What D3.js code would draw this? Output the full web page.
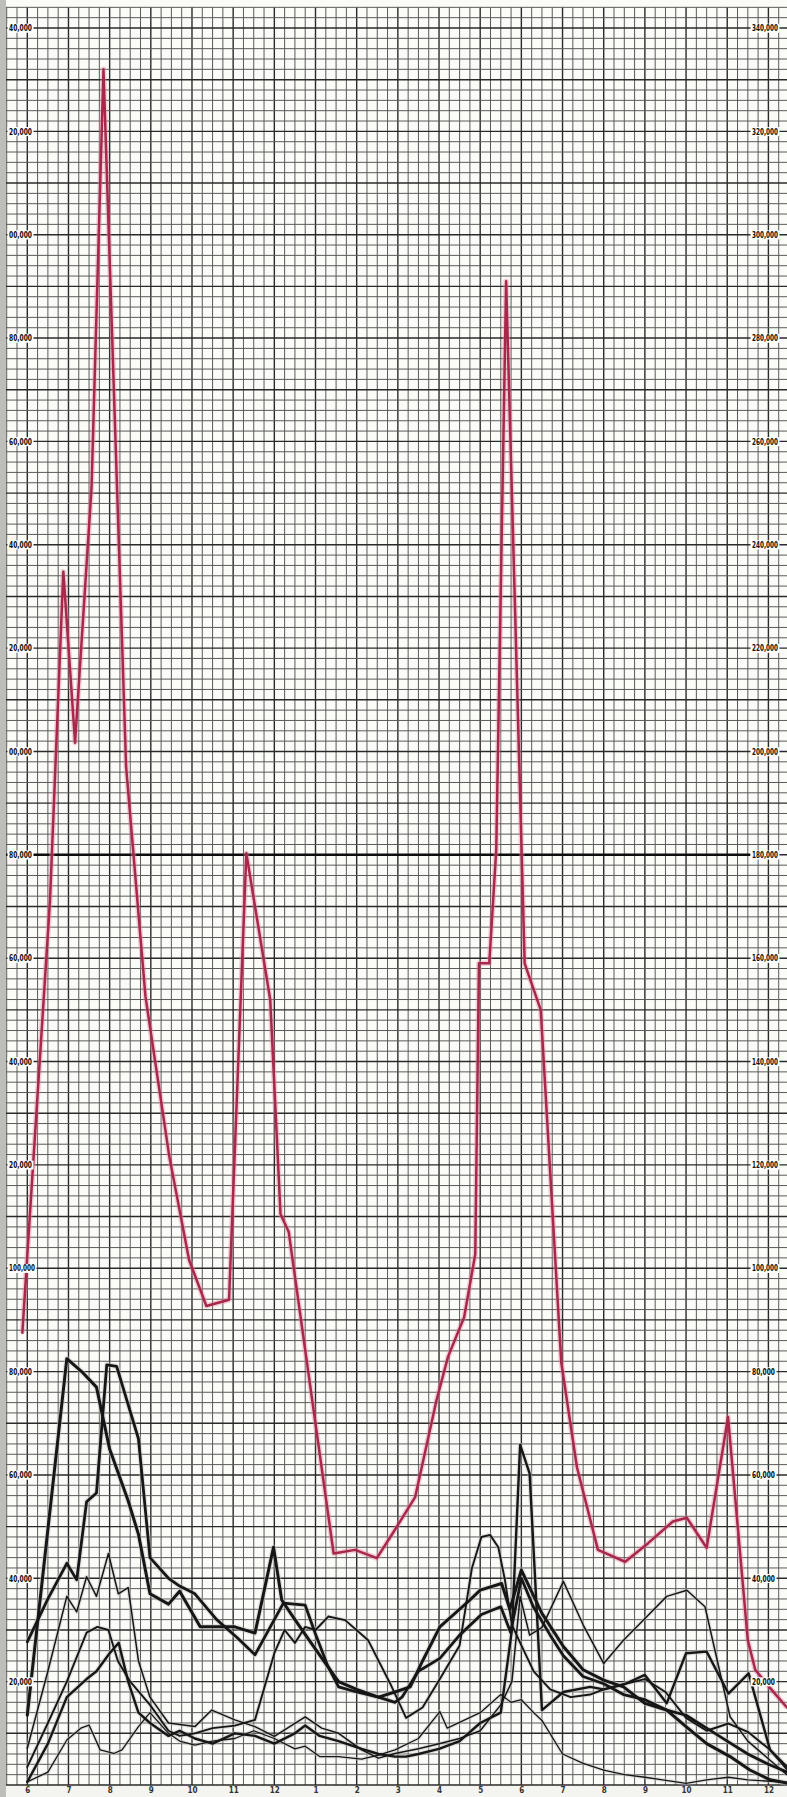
<!DOCTYPE html>
<html><head><meta charset="utf-8">
<script src="https://cdn.jsdelivr.net/npm/d3@7"></script>
<style>html,body{margin:0;padding:0;background:#fff;} svg{display:block;}</style>
</head><body>
<svg id="c" width="787" height="1797"></svg>
<script>
// ---------- data (time in months from first "6"; values in thousands) ----------
const monthLabels = ["6","7","8","9","10","11","12","1","2","3","4","5","6","7","8","9","10","11","12"];
const tickValues = [20,40,60,80,100,120,140,160,180,200,220,240,260,280,300,320,340];
const leftTickLabels = ["20,000","40,000","60,000","80,000","100,000","20,000","40,000","60,000","80,000","00,000","20,000","40,000","60,000","80,000","00,000","20,000","40,000"];
const rightTickLabels = ["20,000","40,000","60,000","80,000","100,000","120,000","140,000","160,000","180,000","200,000","220,000","240,000","260,000","280,000","300,000","320,000","340,000"];
const referenceLine = 180;

const redSeries = [[-0.12,87.5],[0.55,171],[0.875,234.8],[1.16,201.7],[1.56,251],[1.85,332],[2.4,197],[2.87,152.6],[3.45,121.6],[3.93,101.6],[4.35,92.7],[4.9,93.9],[5.32,180.3],[5.9,152],[6.15,110.5],[6.35,107],[7.44,44.8],[7.96,45.5],[8.49,43.9],[8.93,49.4],[9.42,55.7],[9.94,74.5],[10.22,82.9],[10.61,90.5],[10.88,102.7],[10.97,159],[11.22,159],[11.39,181],[11.63,291],[12.08,159],[12.47,150],[12.97,81.7],[13.35,61.5],[13.86,45.5],[14.52,43.2],[15.08,46.8],[15.68,51],[16.02,51.7],[16.5,45.9],[17.02,71.2],[17.5,28],[17.68,22.3],[18.08,18.4],[18.45,15]];

const blackA = [[0,13.5],[0.96,82.5],[1.32,80],[1.68,77],[2.0,65],[2.45,55],[2.7,48.5],[2.98,37],[3.43,35],[3.7,37.5],[4.2,30.6],[5.04,30.6],[5.53,29.4],[5.98,46],[6.18,35.8],[6.5,32],[6.85,28],[7.2,24],[7.56,20],[8.0,18.5],[8.53,17],[8.93,18],[9.3,19],[9.6,24],[10.02,30.6],[10.75,35.8],[11.0,37.7],[11.52,39],[11.72,34],[12.0,41.6],[12.5,33.2],[13.02,26.8],[13.5,22.3],[14.0,20.3],[14.48,19],[15.0,15.8],[15.53,14.5],[16.0,11.3],[16.5,8],[17.07,5.5],[17.55,2.9],[18.04,1],[18.45,0.4]];
const blackB = [[0,27.7],[0.5,36],[0.96,42.9],[1.2,39.7],[1.44,54.8],[1.68,56.5],[1.93,81.3],[2.17,81],[2.7,67],[2.98,44],[3.43,40],[3.7,38.5],[4.07,37],[4.6,32],[5.1,28.5],[5.53,25.2],[6.22,35.2],[6.75,34.8],[6.99,29.4],[7.3,23],[7.56,19],[8.0,18],[8.53,17],[8.93,16],[9.1,17],[9.5,22],[10.02,24.5],[10.5,29],[11.03,33],[11.5,34.5],[11.74,29.5],[12.0,40],[12.29,34.5],[12.7,29],[13.02,25],[13.5,21],[14.0,19.6],[14.48,17.5],[15.0,16.5],[15.53,14.5],[16.0,13.5],[16.5,11],[17.0,8.5],[17.5,6],[18.0,4],[18.45,2.5]];
const blackC = [[0,7.1],[0.5,22],[0.96,36.5],[1.2,33.5],[1.44,40.3],[1.68,36.5],[1.97,44.8],[2.21,37],[2.45,38.2],[2.7,24],[2.98,17],[3.43,12],[4.07,11.3],[4.48,14.5],[5.04,12.6],[5.53,11.3],[6.0,9.4],[6.75,13.2],[7.15,11],[7.56,10],[8.12,6.8],[8.53,5.2],[8.93,6.1],[9.5,7],[10.0,8],[10.5,9],[11.0,10.5],[11.5,15.5],[11.77,20],[11.97,36.5],[12.2,29],[12.5,30.5],[13.02,39.4],[13.5,31],[14.0,23.5],[14.48,28],[14.96,31.9],[15.53,36.5],[16.02,37.7],[16.46,34.5],[17.07,13.2],[17.5,8.5],[18.04,4.8],[18.45,2]];
const blackD = [[0,3.5],[0.5,12],[0.96,20],[1.44,29.5],[1.7,30.6],[1.97,30],[2.2,24],[2.5,20],[2.98,15.5],[3.43,10.5],[3.7,9.5],[4.07,10],[4.5,11],[5.04,11.5],[5.53,12.6],[6.0,25.5],[6.25,30],[6.5,27.5],[6.75,30.6],[7.0,30],[7.31,32.6],[7.72,31.9],[8.28,28],[8.81,19.7],[9.2,13],[9.6,15],[10.02,20.5],[10.5,27],[10.8,42],[11.03,48],[11.24,48.4],[11.44,46],[11.6,39.7],[11.77,31],[12.0,27],[12.3,22],[12.7,18.5],[13.2,17],[13.67,17.5],[14.0,18.5],[14.48,19.5],[15.0,20.5],[15.5,18],[16.0,13],[16.5,10.5],[17.03,11.9],[17.5,10.3],[18.04,6.8],[18.45,3]];
const blackE = [[0,0.6],[0.5,8],[0.96,17],[1.44,20.5],[1.68,22],[2.0,25.5],[2.22,27.5],[2.45,20],[2.7,14],[2.98,12],[3.43,9.5],[3.7,10.5],[4.07,9],[4.5,8],[5.04,10],[5.53,9.5],[6.0,8],[6.5,10],[6.75,11.5],[7.1,9.5],[7.56,8.5],[8.12,7],[8.53,6],[8.93,5.5],[9.2,5.5],[9.5,6],[10.0,7],[10.5,8.5],[11.0,12],[11.5,14],[11.77,30],[11.97,65.8],[12.2,60.3],[12.5,14.5],[13.02,18],[13.67,19],[14.0,18.5],[14.5,19.5],[15.0,21.3],[15.53,15.8],[16.0,25.5],[16.5,25.8],[17.03,17.7],[17.52,21.6],[18.04,6.8],[18.45,3.5]];
const blackF = [[0,0.6],[0.5,2.5],[0.96,8.7],[1.3,11],[1.5,11.6],[1.77,6.8],[2.1,6.1],[2.3,6.8],[2.7,11.3],[2.98,14],[3.43,10],[3.7,8.5],[4.07,7.7],[4.5,8.5],[5.04,9],[5.5,10.5],[6.0,9],[6.5,7],[6.75,7.5],[7.1,5.5],[7.56,5.5],[8.12,5],[8.53,5.8],[8.93,6.8],[9.5,9],[10.02,14.2],[10.2,11],[10.6,12.5],[11.0,14],[11.5,17.5],[11.75,16],[12.0,16.5],[12.3,14],[12.5,12.5],[13.0,6],[13.5,4.2],[14.0,2.9],[14.5,2],[15.0,1.5],[16.0,0.3],[16.5,1],[17.03,1.5],[17.5,1],[18.45,0.5]];

// ---------- drawing ----------
const W = 787, H = 1797;
const x = d3.scaleLinear().domain([0, 18]).range([27.3, 768.4]);
const y = d3.scaleLinear().domain([0, 340]).range([1785, 28]);
const svg = d3.select("#c");

svg.append("rect").attr("width", W).attr("height", H).attr("fill", "#fbfbf8");
svg.append("rect").attr("x", 0).attr("y", 0).attr("width", 6).attr("height", H).attr("fill", "#bdbdb9");

const grid = svg.append("g");
const yTop = y(344), yBot = y(0);
d3.range(-2, 75).forEach(k => {
  const xv = x(k / 4);
  if (xv > W + 1) return;
  const major = k % 4 === 0;
  grid.append("line").attr("x1", xv).attr("x2", xv).attr("y1", yTop).attr("y2", yBot)
    .attr("stroke", major ? "#2a2a2a" : "#5a5a5a").attr("stroke-width", major ? 1.4 : 1);
});
d3.range(0, 345, 2).forEach(v => {
  const yv = y(v);
  const major = v % 10 === 0;
  grid.append("line").attr("x1", 6).attr("x2", W).attr("y1", yv).attr("y2", yv)
    .attr("stroke", major ? "#2a2a2a" : "#5a5a5a").attr("stroke-width", major ? 1.4 : 1);
});
svg.append("line").attr("x1", 6).attr("x2", 750).attr("y1", y(referenceLine)).attr("y2", y(referenceLine))
  .attr("stroke", "#0d0d0d").attr("stroke-width", 2.4);

// ---------- series ----------
const line = d3.line().x(d => x(d[0])).y(d => y(d[1]));
const blacks = [
  {d: blackF, w: 1.3}, {d: blackC, w: 1.5}, {d: blackD, w: 1.9},
  {d: blackE, w: 2.4}, {d: blackB, w: 2.8}, {d: blackA, w: 3.0}
];
blacks.forEach(s => {
  svg.append("path").datum(s.d).attr("d", line).attr("fill", "none")
    .attr("stroke", "#c4c4c4").attr("stroke-opacity", 0.45).attr("stroke-width", s.w + 2.5)
    .attr("stroke-linejoin", "round");
});
blacks.forEach(s => {
  svg.append("path").datum(s.d).attr("d", line).attr("fill", "none")
    .attr("stroke", "#161616").attr("stroke-width", s.w)
    .attr("stroke-linejoin", "round").attr("stroke-linecap", "round");
});
svg.append("path").datum(redSeries).attr("d", line).attr("fill", "none")
  .attr("stroke", "#e48aa2").attr("stroke-opacity", 0.4).attr("stroke-width", 5.5)
  .attr("stroke-linejoin", "round");
svg.append("path").datum(redSeries).attr("d", line).attr("fill", "none")
  .attr("stroke", "#a8284b").attr("stroke-width", 2.5)
  .attr("stroke-linejoin", "round").attr("stroke-linecap", "round");

// ---------- axes ----------
function styleLabels(gAxis, fit) {
  gAxis.select(".domain").remove();
  gAxis.selectAll("text")
    .attr("font-family", "'Liberation Sans Narrow','DejaVu Sans Condensed','Liberation Sans',sans-serif")
    .attr("font-weight", "bold").attr("font-size", 8.5).attr("fill", "#0e0e0e");
  if (fit) {
    gAxis.selectAll("text").each(function() {
      const t = d3.select(this);
      const len = t.text().length >= 7 ? 26 : 23;
      t.attr("textLength", len).attr("lengthAdjust", "spacingAndGlyphs");
    });
    gAxis.selectAll(".tick").each(function() {
      const tk = d3.select(this);
      const bb = tk.select("text").node().getBBox();
      tk.insert("rect", "text").attr("x", bb.x - 1.5).attr("y", bb.y + 0.5)
        .attr("width", bb.width + 3).attr("height", bb.height - 1).attr("fill", "#fdfdfb");
    });
  }
}
const leftAxis = svg.append("g").attr("transform", "translate(7,0)")
  .call(d3.axisRight(y).tickValues(tickValues).tickSize(0).tickPadding(2)
    .tickFormat((d, i) => leftTickLabels[i]));
styleLabels(leftAxis, true);

const rightAxis = svg.append("g").attr("transform", "translate(750,0)")
  .call(d3.axisRight(y).tickValues(tickValues).tickSize(0).tickPadding(2)
    .tickFormat((d, i) => rightTickLabels[i]));
styleLabels(rightAxis, true);

svg.append("rect").attr("x", 6).attr("y", 1786).attr("width", W).attr("height", 11).attr("fill", "#f4f4f0");
const bottomAxis = svg.append("g").attr("transform", "translate(0,1785)")
  .call(d3.axisBottom(x).tickValues(d3.range(19)).tickSize(0).tickPadding(2)
    .tickFormat((d, i) => monthLabels[i]));
styleLabels(bottomAxis, false);
bottomAxis.selectAll("text").attr("font-size", 8).attr("fill", "#333");
</script>
</body></html>
